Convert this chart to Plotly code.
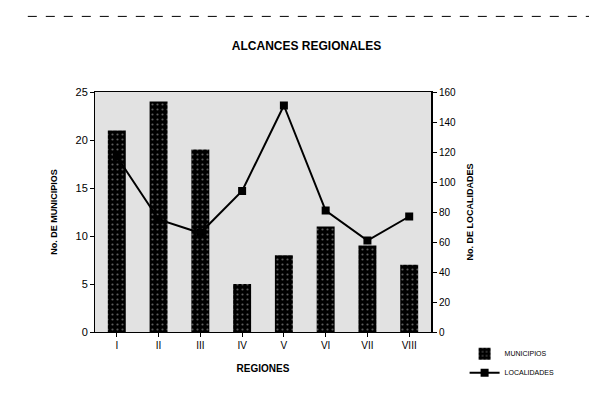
import plotly.graph_objects as go

regiones = ["I", "II", "III", "IV", "V", "VI", "VII", "VIII"]
municipios = [21, 24, 19, 5, 8, 11, 9, 7]
localidades = [117, 75, 66, 94, 151, 81, 61, 77]

font_family = "Liberation Sans, Arial, sans-serif"

fig = go.Figure()
fig.add_trace(go.Bar(
    x=regiones, y=municipios, name="MUNICIPIOS",
    marker=dict(color="black", line=dict(width=0),
                pattern=dict(shape=".", fgcolor="#bbbbbb", bgcolor="black", size=5, solidity=0.15)),
    width=0.43, yaxis="y",
))
fig.add_trace(go.Scatter(
    x=regiones, y=localidades, name="LOCALIDADES", mode="lines+markers",
    line=dict(color="black", width=2),
    marker=dict(symbol="square", size=8, color="black"),
    yaxis="y2",
))

fig.update_layout(
    width=597, height=403,
    margin=dict(l=87, r=174, t=84, b=79),
    paper_bgcolor="white",
    plot_bgcolor="#e2e2e2",
    font=dict(family=font_family, color="black", size=10),
    title=dict(text="<b>ALCANCES REGIONALES</b>", x=0.5, xanchor="center", y=0.895, yanchor="middle",
               font=dict(size=12, family=font_family)),
    xaxis=dict(
        showgrid=False, showline=True, linecolor="black", linewidth=1, mirror=True,
        ticks="outside", ticklen=4, tickcolor="black",
        title=dict(text="<b>REGIONES</b>", font=dict(size=10), standoff=14),
        tickfont=dict(size=10),
    ),
    yaxis=dict(
        range=[0, 25], dtick=5, showgrid=False, showline=True, linecolor="black", linewidth=1,
        ticks="outside", ticklen=4, tickcolor="black", zeroline=False,
        title=dict(text="<b>No. DE MUNICIPIOS</b>", font=dict(size=9), standoff=16),
        tickfont=dict(size=11),
    ),
    yaxis2=dict(
        range=[0, 160], dtick=20, overlaying="y", side="right", showgrid=False,
        showline=True, linecolor="black", linewidth=2, ticks="outside", ticklen=4, tickcolor="black",
        zeroline=False,
        title=dict(text="<b>No. DE LOCALIDADES</b>", font=dict(size=9), standoff=12),
        tickfont=dict(size=10),
    ),
    legend=dict(
        x=1.1, y=-0.03, xanchor="left", yanchor="top",
        font=dict(size=7), bgcolor="rgba(0,0,0,0)", tracegroupgap=6,
        itemwidth=30,
    ),
    showlegend=True,
    bargap=0.57,
)
fig.update_layout(title_y=0.905)

fig.add_shape(type="line", xref="paper", yref="paper", x0=-0.2, x1=1.65, y0=1.315, y1=1.315,
              line=dict(color="black", width=1, dash="dash"))
fig.add_shape(type="line", xref="paper", yref="paper", x0=1.0, x1=1.65, y0=-0.3, y1=-0.3,
              line=dict(color="black", width=1, dash="longdash"))

fig.write_html("out.html")
